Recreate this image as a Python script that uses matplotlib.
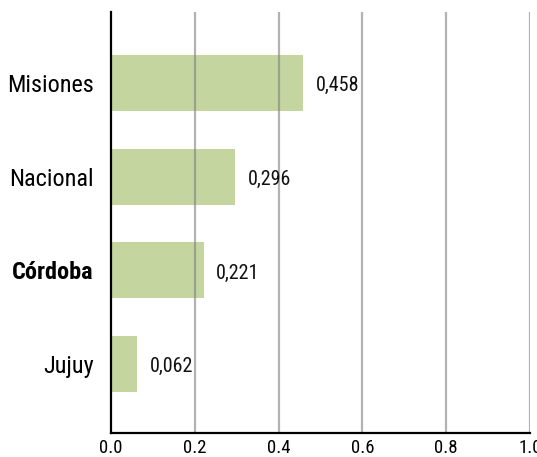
import matplotlib
matplotlib.use("Agg")
from matplotlib import pyplot as plt
import numpy as np

# provincial values, bottom to top
provinces = ['Jujuy', 'Córdoba', 'Nacional', 'Misiones']
values = [0.062, 0.221, 0.296, 0.458]
labels = ['0,062', '0,221', '0,296', '0,458']
xticks = [0.0, 0.2, 0.4, 0.6, 0.8, 1.0]

plt.rcParams['font.family'] = ['Roboto Condensed', 'DejaVu Sans']

fig = plt.figure(figsize=(5.37, 4.57), dpi=100)
ax = fig.add_axes([0.2067, 0.0525, 0.7803, 0.9212])

pos = np.arange(len(provinces))
ax.barh(pos, values, height=0.6, color='#c5d5a0', zorder=1)

# vertical grid drawn over the bars
for x in xticks[1:]:
    ax.axvline(x, color='#808080', alpha=0.6, lw=1.6, zorder=2)

for p, v, lab in zip(pos, values, labels):
    ax.annotate(lab, (v, p), xytext=(9, -2), textcoords='offset points',
                va='center', ha='left', fontsize=14.5, color='#111111')

ax.set_xlim(0, 1.0)
ax.set_ylim(-0.74, 3.76)
ax.set_xticks(xticks)
ax.set_xticklabels(['%.1f' % x for x in xticks], fontsize=13.5)
ax.set_yticks(pos)
ax.set_yticklabels(provinces, fontsize=17.5)
for t in ax.get_yticklabels():
    if t.get_text() == 'Córdoba':
        t.set_fontweight('bold')
ax.tick_params(axis='both', length=0)
ax.tick_params(axis='x', pad=4)
ax.tick_params(axis='y', pad=12.5)

for s in ['top', 'right']:
    ax.spines[s].set_visible(False)
ax.spines['left'].set_linewidth(1.6)
ax.spines['bottom'].set_linewidth(1.6)
ax.spines['left'].set_zorder(3)

fig.savefig('out.png', dpi=100)
